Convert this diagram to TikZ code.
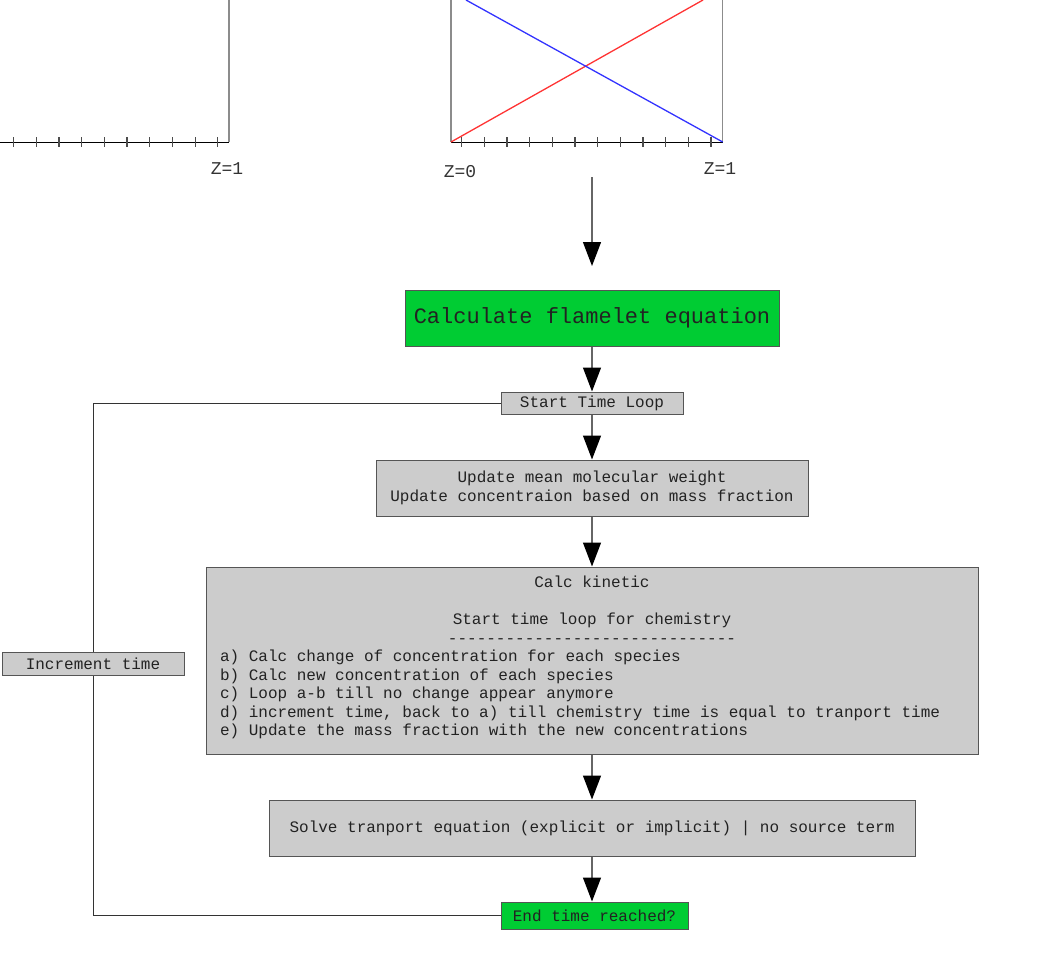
\documentclass[tikz,border=0pt]{standalone}
\usepackage{fontspec}
\setmainfont{Liberation Mono}
\usetikzlibrary{arrows.meta}
\definecolor{boxgreen}{HTML}{00CC33}
\definecolor{boxgray}{HTML}{CCCCCC}
\definecolor{edgegray}{HTML}{555555}
\definecolor{linegray}{HTML}{666666}
\definecolor{txt}{HTML}{222222}
\def\dsh{-{}}
\tikzset{
  gbox/.style={draw=edgegray, fill=boxgreen, line width=1pt, inner sep=0pt, text=txt, align=center},
  graybox/.style={draw=edgegray, fill=boxgray, line width=1pt, inner sep=0pt, text=txt, align=center},
  flow/.style={draw=linegray, line width=1.3pt, -{Triangle[length=24pt,width=18pt,color=black]}},
  loopline/.style={draw=black!80, line width=1pt},
  axis/.style={draw=black, line width=1pt},
  frame/.style={draw=gray!90, line width=1.4pt},
  tick/.style={draw=black!70, line width=1.2pt},
  zlabel/.style={text=black!80, font=\fontsize{18}{20}\selectfont, inner sep=0pt}
}
\begin{document}
\begin{tikzpicture}[x=1pt,y=-1pt]
\useasboundingbox (0,0) rectangle (1063,953);
% left plot
\draw[frame] (229,0) -- (229,142);
\draw[axis] (0,142) -- (229,142);
\foreach \k in {0,...,9} \draw[tick] ({13.5+22.7*\k},137) -- ({13.5+22.7*\k},147);
\node[zlabel] (z1a) at (227,169) {Z=1};
% right plot
\draw[frame] (451,0) -- (451,142);
\draw[frame] (722.7,0) -- (722.7,142);
\draw[axis] (451,142) -- (722.7,142);
\foreach \k in {0,...,11} \draw[tick] ({461.7+22.67*\k},137) -- ({461.7+22.67*\k},147);
\draw[red!80, line width=1.3pt] (451,142) -- (703,0);
\draw[blue!80, line width=1.3pt] (466,0) -- (722.7,142);
\node[zlabel] (z0) at (460,172) {Z=0};
\node[zlabel] (z1b) at (720,169) {Z=1};
% flow
\coordinate (a1) at (592,177);
\coordinate (a2) at (592,266);
\node[gbox, minimum width=374pt, minimum height=56pt, font=\fontsize{22}{24}\selectfont] (calc) at (592,318) {Calculate flamelet equation};
\node[graybox, minimum width=182pt, minimum height=22pt, font=\fontsize{16}{18}\selectfont] (start) at (592,403) {Start Time Loop};
\node[graybox, minimum width=432pt, minimum height=56pt, font=\fontsize{16}{19}\selectfont] (upd) at (592,488) {Update mean molecular weight\\Update concentraion based on mass fraction};
\node[graybox, minimum width=772pt, minimum height=187pt, text width=744pt, inner xsep=14pt, align=left, font=\fontsize{16}{18.5}\selectfont] (kin) at (592,660.5) {\spaceskip=0pt\xspaceskip=0pt%
\makebox[\linewidth]{Calc kinetic}\\
\mbox{}\\
\makebox[\linewidth]{Start time loop for chemistry}\\
\makebox[\linewidth]{\dsh\dsh\dsh\dsh\dsh\dsh\dsh\dsh\dsh\dsh\dsh\dsh\dsh\dsh\dsh\dsh\dsh\dsh\dsh\dsh\dsh\dsh\dsh\dsh\dsh\dsh\dsh\dsh\dsh\dsh}\\
a) Calc change of concentration for each species\\
b) Calc new concentration of each species\\
c) Loop a{-}b till no change appear anymore\\
d) increment time, back to a) till chemistry time is equal to tranport time\\
e) Update the mass fraction with the new concentrations\rule[-9pt]{0pt}{9pt}};
\node[graybox, minimum width=646pt, minimum height=56pt, font=\fontsize{16}{18}\selectfont] (solve) at (592,828) {Solve tranport equation (explicit or implicit) | no source term};
\node[gbox, minimum width=187pt, minimum height=27pt, font=\fontsize{16}{18}\selectfont] (end) at (594.5,915.5) {End time reached?};
\draw[flow] (a1) -- (a2);
\draw[flow] (calc.south) -- (start.north);
\draw[flow] (start.south) -- (upd.north);
\draw[flow] (upd.south) -- (kin.south |- kin.north);
\draw[flow] (kin.south) -- (solve.north);
\draw[flow] (solve.south) -- (solve.south |- end.north);
% loop
\coordinate (lt) at (93,403);
\draw[loopline] (start.west) -- (lt) -- (lt |- end.west) -- (end.west);
\node[graybox, minimum width=182pt, minimum height=23pt, font=\fontsize{16}{18}\selectfont] (inc) at (93,663.5) {Increment time};
\end{tikzpicture}
\end{document}
